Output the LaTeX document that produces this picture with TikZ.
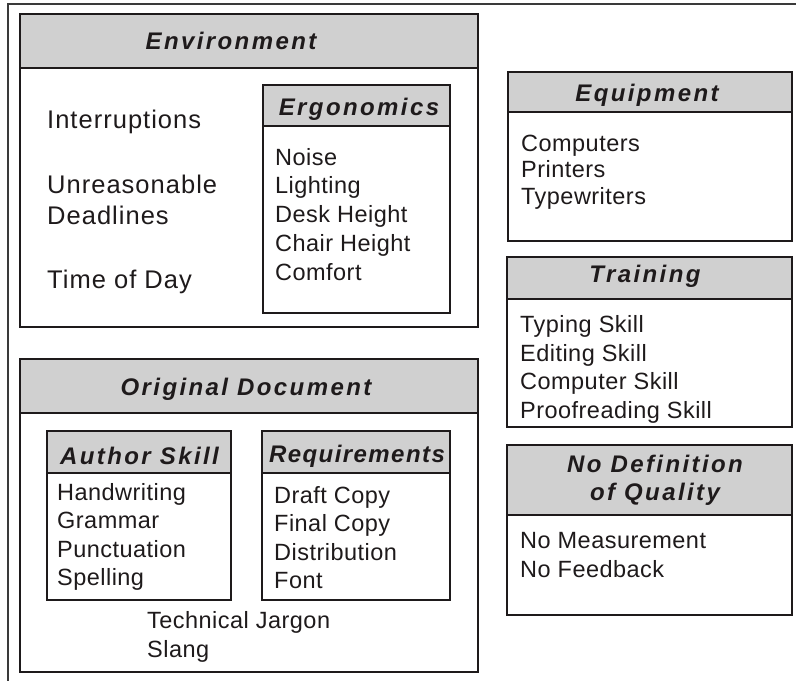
\documentclass[tikz,border=0pt]{standalone}
\usepackage{fontspec}
\setmainfont{Liberation Sans}
\newfontfamily\bodyf[LetterSpace=2]{Liberation Sans}
\newfontfamily\bigf[LetterSpace=4]{Liberation Sans}
\newfontfamily\headf[LetterSpace=10]{Liberation Sans}
\newfontfamily\headtight[LetterSpace=6]{Liberation Sans}
\definecolor{txt}{HTML}{1E1A1B}
\definecolor{hdgray}{HTML}{D0D0D0}
\definecolor{frame}{HTML}{3A3A3A}
\begin{document}
\begin{tikzpicture}[x=1pt,y=-1pt,
  boxline/.style={draw=txt, line width=1.8pt, fill=white},
  hdfill/.style={draw=txt, line width=1.8pt, fill=hdgray},
  title/.style={anchor=base, inner sep=0pt, text=txt, font=\headf\fontsize{24}{28}\selectfont\bfseries\itshape},
  titletight/.style={anchor=base, inner sep=0pt, text=txt, font=\headtight\fontsize{24}{28}\selectfont\bfseries\itshape},
  item/.style={anchor=base west, inner sep=0pt, text=txt, font=\bodyf\fontsize{23.5}{28}\selectfont},
  bigitem/.style={anchor=base west, inner sep=0pt, text=txt, font=\bigf\fontsize{25.5}{30}\selectfont}]
\useasboundingbox (0,0) rectangle (796,681);
% outer frame (top and left only)
\draw[draw=frame, line width=2.8pt] (796,4) -- (8,4) -- (8,681);

% ---------- Environment ----------
\draw[boxline] (20,14) rectangle (478,327);
\draw[hdfill] (20,14) rectangle (478,68);
\node[title] (envT) at (231,49) {Environment};
\node[bigitem] (env1) at (47,128.5) {Interruptions};
\node[bigitem] (env2) at (47,193) {Unreasonable};
\node[bigitem] (env3) at (47,224) {Deadlines};
\node[bigitem] (env4) at (47,288) {Time of Day};
% Ergonomics
\draw[boxline] (263,85) rectangle (450,313);
\draw[hdfill] (263,85) rectangle (450,126);
\node[title] (ergT) at (359,115) {Ergonomics};
\node[item] (erg1) at (275,165) {Noise};
\node[item] (erg2) at (275,193.5) {Lighting};
\node[item] (erg3) at (275,222.5) {Desk Height};
\node[item] (erg4) at (275,251) {Chair Height};
\node[item] (erg5) at (275,280) {Comfort};

% ---------- Equipment ----------
\draw[boxline] (508,72) rectangle (792,241);
\draw[hdfill] (508,72) rectangle (792,112);
\node[title] (eqT) at (647,101) {Equipment};
\node[item] (eq1) at (521,151) {Computers};
\node[item] (eq2) at (521,177.5) {Printers};
\node[item] (eq3) at (521,204) {Typewriters};

% ---------- Training ----------
\draw[boxline] (507,257) rectangle (792,427);
\draw[hdfill] (507,257) rectangle (792,299);
\node[title] (trT) at (645,282) {Training};
\node[item] (tr1) at (520,332) {Typing Skill};
\node[item] (tr2) at (520,361) {Editing Skill};
\node[item] (tr3) at (520,389.5) {Computer Skill};
\node[item] (tr4) at (520,418) {Proofreading Skill};

% ---------- No Definition of Quality ----------
\draw[boxline] (507,445) rectangle (792,615);
\draw[hdfill] (507,445) rectangle (792,515);
\node[title] (ndT1) at (655,472) {No Definition};
\node[title] (ndT2) at (655,500) {of Quality};
\node[item] (nd1) at (520,548) {No Measurement};
\node[item] (nd2) at (520,577) {No Feedback};

% ---------- Original Document ----------
\draw[boxline] (20,359) rectangle (478,672);
\draw[hdfill] (20,359) rectangle (478,413);
\node[title] (odT) at (246,395) {Original Document};
% Author Skill
\draw[boxline] (47,431) rectangle (231,600);
\draw[hdfill] (47,431) rectangle (231,473);
\node[title] (asT) at (139.5,464) {Author Skill};
\node[item] (as1) at (57,500) {Handwriting};
\node[item] (as2) at (57,528.5) {Grammar};
\node[item] (as3) at (57,557) {Punctuation};
\node[item] (as4) at (57,585.5) {Spelling};
% Requirements
\draw[boxline] (262,431) rectangle (450,600);
\draw[hdfill] (262,431) rectangle (450,473);
\node[titletight] (rqT) at (357,462) {Requirements};
\node[item] (rq1) at (274,503) {Draft Copy};
\node[item] (rq2) at (274,531.5) {Final Copy};
\node[item] (rq3) at (274,560) {Distribution};
\node[item] (rq4) at (274,588.5) {Font};
\node[item] (od1) at (147,628) {Technical Jargon};
\node[item] (od2) at (147,657) {Slang};
\end{tikzpicture}
\end{document}
